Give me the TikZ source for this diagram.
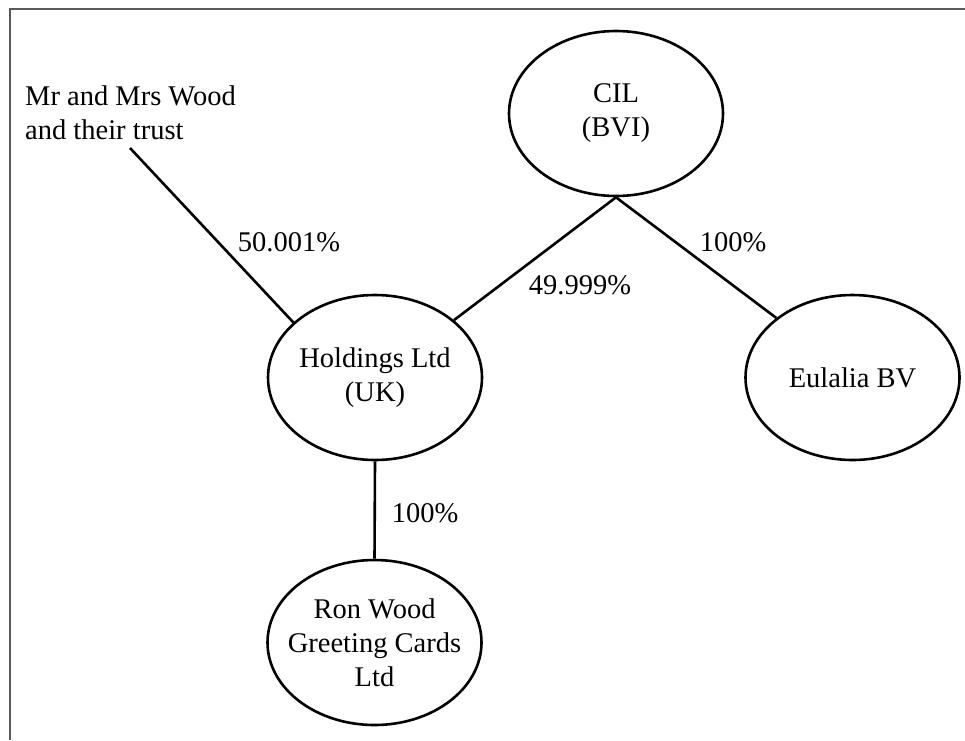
\documentclass[tikz,border=0pt]{standalone}
\usepackage{fontspec}
\setmainfont{Liberation Serif}
\usetikzlibrary{shapes.geometric}
\begin{document}
\begin{tikzpicture}[x=1pt,y=-1pt,
  company/.style={ellipse,draw,line width=2.6pt,inner xsep=-25pt,inner ysep=0pt,
    minimum width=214pt,minimum height=165pt,align=center,
    font=\fontsize{28.5}{34}\selectfont},
  link/.style={line width=2.6pt},
  pct/.style={inner sep=0pt,font=\fontsize{28.5}{34}\selectfont},
  frameline/.style={line width=2pt,draw=black!65}]
\useasboundingbox (0,0) rectangle (965,740);
\draw[frameline] (10,740) -- (10,9) -- (965,9);
% owners
\node[pct,anchor=west,align=left] (wood) at (25,113) {Mr and Mrs Wood\\and their trust};
\coordinate (woodend) at (130,148);
% companies
\node[company] (cil) at (616,113.5) {CIL\\(BVI)};
\node[company] (hold) at (375,377.5) {Holdings Ltd\\(UK)};
\node[company] (eul) at (852.5,377.5) {Eulalia BV};
\node[company] (ron) at (374.5,642.5) {Ron Wood\\Greeting Cards\\Ltd};
% connectors
\draw[link] (woodend) -- (hold.146);
\draw[link] (cil.south) -- (hold.36);
\draw[link] (cil.south) -- (eul.142);
\draw[link] (hold.south) -- (ron.north);
% percentages
\node[pct] (p1) at (289,242) {50.001\%};
\node[pct] (p2) at (580,285) {49.999\%};
\node[pct] (p3) at (733,242) {100\%};
\node[pct] (p4) at (425,513) {100\%};
\end{tikzpicture}
\end{document}
